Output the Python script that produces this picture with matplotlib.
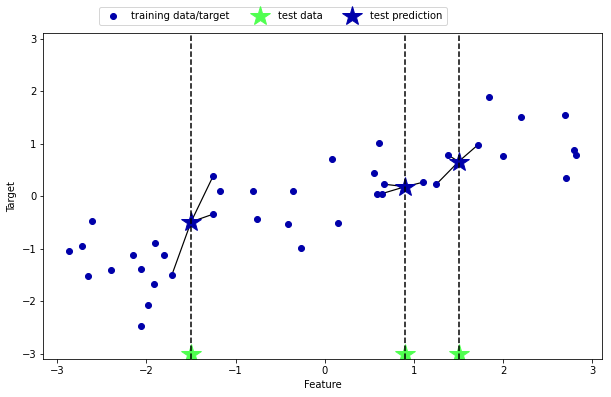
import numpy as np
import matplotlib
matplotlib.use("Agg")
import matplotlib.pyplot as plt

# training data
x_train = [-2.873, -2.722, -2.611, -2.651, -2.400, -2.154, -2.058, -1.903, -1.803, -1.914,
           -1.982, -2.058, -1.716, -1.254, -1.173, -1.254,
           0.611, 0.084, 0.551, 0.667, 0.586, 0.637, 1.105, -0.801, -0.353, -0.757,
           -0.409, 0.151, -0.263,
           1.844, 2.196, 2.688, 2.789, 2.819, 2.698, 1.995, 1.713, 1.385, 1.250]
y_train = [-1.04, -0.95, -0.47, -1.52, -1.40, -1.12, -1.38, -0.89, -1.12, -1.67,
           -2.07, -2.47, -1.50, 0.38, 0.10, -0.34,
           1.01, 0.71, 0.44, 0.23, 0.05, 0.05, 0.27, 0.10, 0.10, -0.43,
           -0.53, -0.51, -0.98,
           1.89, 1.51, 1.55, 0.89, 0.78, 0.35, 0.77, 0.975, 0.78, 0.23]

x_test = [-1.5, 0.9, 1.5]
n_neighbors = 3

x = np.array(x_train)
y = np.array(y_train)
xt = np.array(x_test)

# 3 nearest neighbours, prediction = mean of their targets
dist = np.abs(xt[:, None] - x[None, :])
closest = np.argsort(dist, axis=1)[:, :n_neighbors]
y_pred = y[closest].mean(axis=1)

fig = plt.figure(figsize=(611 / 72, 397 / 72), dpi=72)
ax = fig.add_axes([0.0709, 0.095, 0.914, 0.821])

ax.plot(x, y, 'o', c='#0000aa')
ax.plot(xt, -3 * np.ones(len(xt)), '*', c='#50ff50', markersize=20)
ax.plot(xt, y_pred, '*', c='#0000aa', markersize=20)
for xx, yy, nb in zip(xt, y_pred, closest):
    for n in nb:
        ax.plot([xx, x[n]], [yy, y[n]], c='k', lw=1.2, zorder=1)
ax.vlines(xt, -3.1, 3.1, linestyle="--", colors='k')
ax.legend(["training data/target", "test data", "test prediction"], ncol=3, loc=(.1, 1.025))
ax.set_ylim(-3.1, 3.1)
ax.set_xlim(-3.156, 3.104)
ax.set_xlabel("Feature")
ax.set_ylabel("Target")

fig.savefig("out.png", dpi=72)
